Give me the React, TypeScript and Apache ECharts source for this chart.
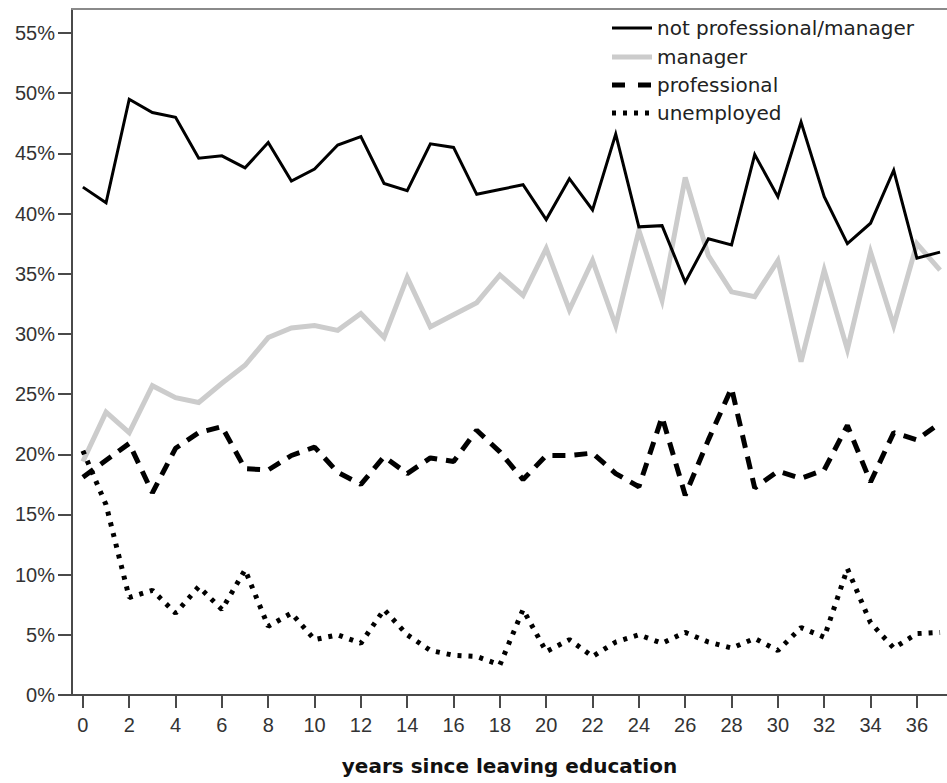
import React, { useEffect, useRef } from "react";
import * as echarts from "echarts";

const years: number[] = Array.from({ length: 38 }, (_, i) => i);
const xTickValues: number[] = [0, 2, 4, 6, 8, 10, 12, 14, 16, 18, 20, 22, 24, 26, 28, 30, 32, 34, 36];
const yTickValues: number[] = [0, 5, 10, 15, 20, 25, 30, 35, 40, 45, 50, 55];

const notProfManager: number[] = [
  42.2, 40.9, 49.5, 48.4, 48.0, 44.6, 44.8, 43.8, 45.9, 42.7,
  43.7, 45.7, 46.4, 42.5, 41.9, 45.8, 45.5, 41.6, 42.0, 42.4,
  39.5, 42.9, 40.3, 46.6, 38.9, 39.0, 34.3, 37.9, 37.4, 44.9,
  41.4, 47.6, 41.4, 37.5, 39.2, 43.6, 36.3, 36.8,
];
const manager: number[] = [
  19.4, 23.5, 21.8, 25.7, 24.7, 24.3, 25.9, 27.4, 29.7, 30.5,
  30.7, 30.3, 31.7, 29.7, 34.7, 30.6, 31.6, 32.6, 34.9, 33.2,
  37.1, 32.0, 36.1, 30.7, 38.6, 32.8, 43.0, 36.5, 33.5, 33.1,
  36.1, 27.7, 35.3, 28.7, 36.8, 30.7, 37.5, 35.3,
];
const professional: number[] = [
  18.1, 19.5, 20.9, 16.8, 20.5, 21.8, 22.3, 18.8, 18.7, 19.9,
  20.6, 18.5, 17.5, 19.8, 18.4, 19.7, 19.4, 22.0, 20.2, 17.9,
  19.9, 19.9, 20.1, 18.4, 17.3, 23.1, 16.6, 21.2, 25.5, 17.2,
  18.6, 18.0, 18.7, 22.4, 17.7, 21.8, 21.2, 22.6,
];
const unemployed: number[] = [
  20.3, 15.8, 8.1, 8.7, 6.8, 9.0, 7.1, 10.4, 5.7, 6.8,
  4.6, 5.0, 4.3, 7.1, 5.0, 3.7, 3.3, 3.2, 2.5, 7.1,
  3.6, 4.6, 3.2, 4.4, 5.0, 4.3, 5.2, 4.4, 3.9, 4.7,
  3.7, 5.6, 4.8, 10.5, 6.0, 3.9, 5.1, 5.2,
];

const legendNames: string[] = ["not professional/manager", "manager", "professional", "unemployed"];

const pairs = (vals: number[]) => years.map((x, i) => [x, vals[i]]);

export default function App() {
  const ref = useRef<HTMLDivElement>(null);
  useEffect(() => {
    document.body.style.margin = "0";
    if (!ref.current) return;
    const chart = echarts.init(ref.current, null, { renderer: "svg" });
    const axisColor = "#4a4a4a";
    const labelFont = "Liberation Sans, Arial, sans-serif";
    const legendStyles = [
      { stroke: "#000", lineWidth: 3, lineDash: null as any },
      { stroke: "#cccccc", lineWidth: 5, lineDash: null as any },
      { stroke: "#000", lineWidth: 5, lineDash: [13, 13] },
      { stroke: "#000", lineWidth: 5, lineDash: [4, 7] },
    ];
    const legendY = [28, 57, 85, 113];
    const graphic: any[] = [];
    legendNames.forEach((name, i) => {
      graphic.push({
        type: "line",
        shape: { x1: 612, y1: legendY[i], x2: 652, y2: legendY[i] },
        style: { ...legendStyles[i], lineCap: "butt" },
      });
      graphic.push({
        type: "text",
        x: 657,
        y: legendY[i],
        style: {
          text: name,
          fill: "#222",
          font: "20px 'DejaVu Sans', sans-serif",
          verticalAlign: "middle",
          textAlign: "left",
        },
      });
    });
    chart.setOption({
      animation: false,
      backgroundColor: "#ffffff",
      grid: { left: 72, top: 9, width: 876, height: 686, containLabel: false },
      xAxis: [
        {
          type: "value",
          min: -0.47,
          max: 37.3,
          name: "years since leaving education",
          nameLocation: "middle",
          nameGap: 61,
          nameTextStyle: { fontFamily: "DejaVu Sans", fontWeight: "bold", fontSize: 20, color: "#111" },
          axisLine: { show: true, onZero: false, lineStyle: { color: axisColor, width: 2 } },
          axisTick: { show: true, length: 13, customValues: xTickValues, lineStyle: { color: axisColor, width: 2 } },
          axisLabel: { customValues: xTickValues, fontFamily: labelFont, fontSize: 20, color: "#333", margin: 20 },
          splitLine: { show: false },
        },
        {
          type: "value",
          position: "top",
          min: -0.47,
          max: 37.3,
          axisLine: { show: true, onZero: false, lineStyle: { color: "#8a8a8a", width: 2 } },
          axisTick: { show: false },
          axisLabel: { show: false },
          splitLine: { show: false },
        },
      ],
      yAxis: {
        type: "value",
        min: 0,
        max: 57,
        axisLine: { show: true, onZero: false, lineStyle: { color: axisColor, width: 2 } },
        axisTick: { show: true, length: 14, customValues: yTickValues, lineStyle: { color: axisColor, width: 2 } },
        axisLabel: {
          customValues: yTickValues,
          formatter: "{value}%",
          fontFamily: labelFont,
          fontSize: 20,
          color: "#333",
          margin: 17,
        },
        splitLine: { show: false },
      },
      series: [
        {
          name: legendNames[1],
          type: "line",
          data: pairs(manager),
          showSymbol: false,
          symbol: "none",
          lineStyle: { color: "#cccccc", width: 5, join: "miter" },
        },
        {
          name: legendNames[0],
          type: "line",
          data: pairs(notProfManager),
          showSymbol: false,
          symbol: "none",
          lineStyle: { color: "#000", width: 3, join: "miter" },
        },
        {
          name: legendNames[2],
          type: "line",
          data: pairs(professional),
          showSymbol: false,
          symbol: "none",
          lineStyle: { color: "#000", width: 5, type: [13, 9], cap: "butt" },
        },
        {
          name: legendNames[3],
          type: "line",
          data: pairs(unemployed),
          showSymbol: false,
          symbol: "none",
          lineStyle: { color: "#000", width: 5, type: [4, 7], cap: "butt" },
        },
      ],
      graphic,
    });
    return () => chart.dispose();
  }, []);
  return <div ref={ref} style={{ width: 947, height: 783 }} />;
}
